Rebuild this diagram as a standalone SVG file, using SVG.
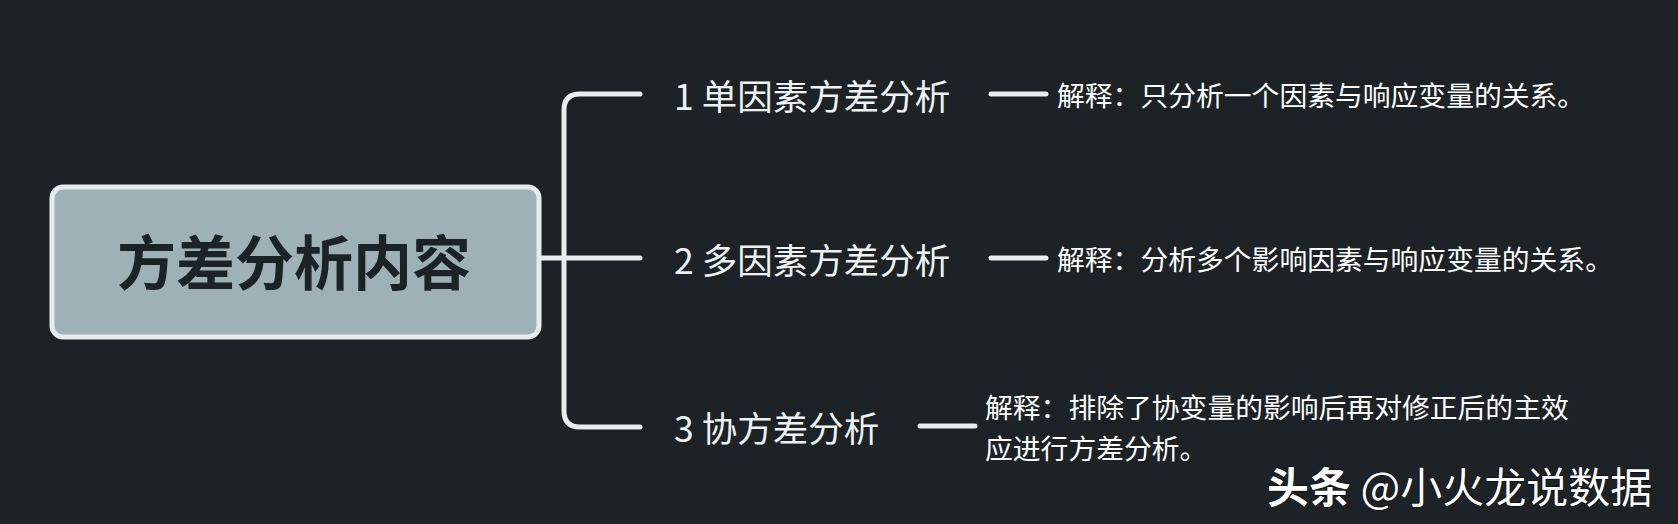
<svg xmlns="http://www.w3.org/2000/svg" width="1678" height="524" viewBox="0 0 1678 524">
<style>
.bg{fill:#1c2225}
.ln{fill:none;stroke:#e8eeee;stroke-width:5;stroke-linecap:round;stroke-linejoin:round}
.br{font-family:"Noto Sans CJK SC","Noto Sans",sans-serif;font-size:35.5px;fill:#eef2f2;dominant-baseline:central}
.ds{font-family:"Noto Sans CJK SC","Noto Sans",sans-serif;font-size:27.8px;fill:#ffffff;dominant-baseline:central}
</style>
<rect class="bg" x="0" y="0" width="1678" height="524"/>
<g id="connectors">
<path class="ln" d="M 640 94 H 580 Q 564 94 564 110 V 411 Q 564 427 580 427 H 640"/>
<path class="ln" d="M 540 258 H 640"/>
<path class="ln" d="M 991 94 H 1046"/>
<path class="ln" d="M 991 258 H 1046"/>
<path class="ln" d="M 920 426 H 975"/>
</g>
<g id="root">
<rect x="52" y="187" width="487" height="150" rx="11" fill="#9eb1b7" stroke="#e6ecec" stroke-width="5"/>
<text x="294" y="259" text-anchor="middle" dominant-baseline="central" font-family="Noto Sans CJK SC,sans-serif" font-size="59" font-weight="bold" fill="#1c2326">方差分析内容</text>
</g>
<g id="node1"><text class="br" x="674" y="94">1 单因素方差分析</text></g>
<g id="node2"><text class="br" x="674" y="258">2 多因素方差分析</text></g>
<g id="node3"><text class="br" x="674" y="426">3 协方差分析</text></g>
<g id="desc1"><text class="ds" x="1057" y="94">解释：只分析一个因素与响应变量的关系。</text></g>
<g id="desc2"><text class="ds" x="1057" y="258">解释：分析多个影响因素与响应变量的关系。</text></g>
<g id="desc3"><text class="ds" x="985" y="406">解释：排除了协变量的影响后再对修正后的主效</text><text class="ds" x="985" y="447">应进行方差分析。</text></g>
<g id="watermark">
<text x="1267" y="484" dominant-baseline="central" font-family="Noto Sans CJK SC,sans-serif" font-size="42" fill="#ffffff" stroke="#000" stroke-width="1" paint-order="stroke"><tspan font-weight="bold">头条</tspan> @小火龙说数据</text>
</g>
</svg>
